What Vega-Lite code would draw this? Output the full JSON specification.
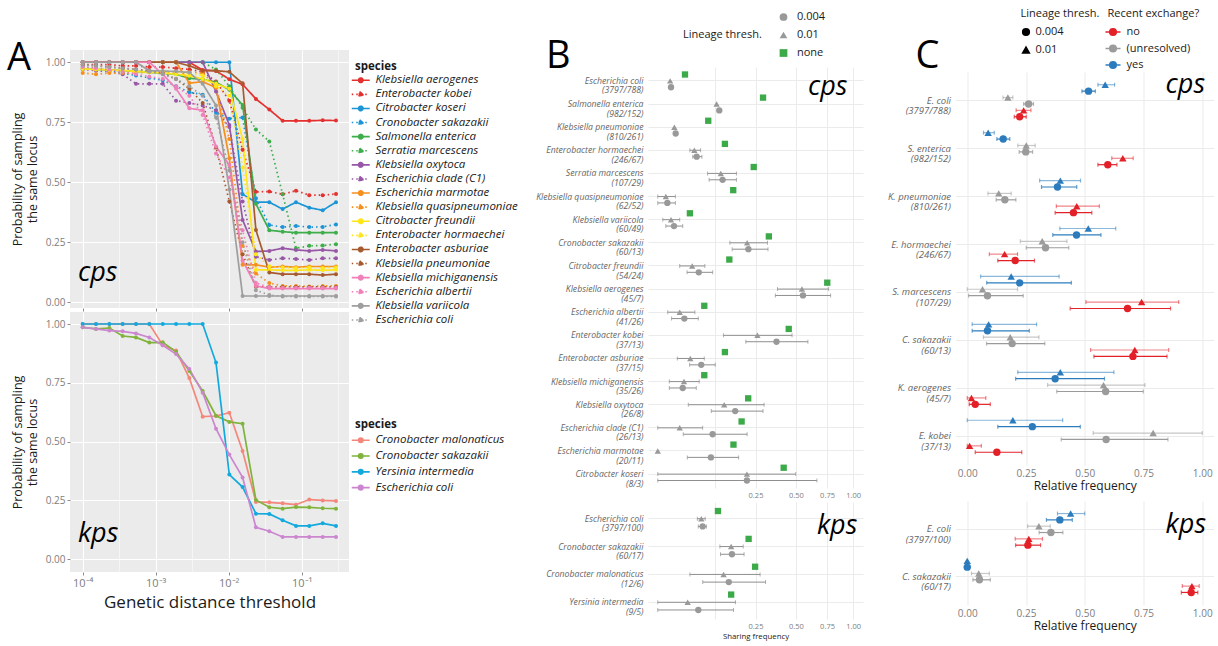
{
"$schema": "https://vega.github.io/schema/vega-lite/v6.json",
"background": "white",
"padding": {"left": 7, "top": 7, "right": 0, "bottom": 0},
"config": {
  "font": "Open Sans",
  "view": {"stroke": null},
  "axis": {"labelColor": "#7d7d7d", "titleColor": "#1a1a1a", "titleFontWeight": "normal", "domain": false, "ticks": false, "labelFont": "Open Sans", "titleFont": "Open Sans"},
  "legend": {"titleFontWeight": "normal", "labelColor": "#1a1a1a", "titleColor": "#1a1a1a", "titleFont": "Open Sans", "labelFont": "Open Sans"},
  "title": {"fontWeight": "normal", "color": "black", "font": "Open Sans"}
},
"datasets": {
"cpsA": [
{"s":"Klebsiella aerogenes","d":0.0001,"p":1},{"s":"Klebsiella aerogenes","d":0.000152,"p":1},{"s":"Klebsiella aerogenes","d":0.000232,"p":1},{"s":"Klebsiella aerogenes","d":0.000353,"p":1},{"s":"Klebsiella aerogenes","d":0.000537,"p":1},{"s":"Klebsiella aerogenes","d":0.000818,"p":1},{"s":"Klebsiella aerogenes","d":0.00125,"p":1},{"s":"Klebsiella aerogenes","d":0.0019,"p":1},{"s":"Klebsiella aerogenes","d":0.00289,"p":1},{"s":"Klebsiella aerogenes","d":0.0044,"p":0.968},{"s":"Klebsiella aerogenes","d":0.0067,"p":0.964},{"s":"Klebsiella aerogenes","d":0.0102,"p":0.929},{"s":"Klebsiella aerogenes","d":0.0155,"p":0.908},{"s":"Klebsiella aerogenes","d":0.0236,"p":0.847},{"s":"Klebsiella aerogenes","d":0.036,"p":0.803},{"s":"Klebsiella aerogenes","d":0.0548,"p":0.756},{"s":"Klebsiella aerogenes","d":0.0835,"p":0.756},{"s":"Klebsiella aerogenes","d":0.127,"p":0.756},{"s":"Klebsiella aerogenes","d":0.194,"p":0.758},{"s":"Klebsiella aerogenes","d":0.295,"p":0.757},
{"s":"Enterobacter kobei","d":0.0001,"p":0.99},{"s":"Enterobacter kobei","d":0.000152,"p":0.99},{"s":"Enterobacter kobei","d":0.000232,"p":0.99},{"s":"Enterobacter kobei","d":0.000353,"p":0.985},{"s":"Enterobacter kobei","d":0.000537,"p":0.985},{"s":"Enterobacter kobei","d":0.000818,"p":0.98},{"s":"Enterobacter kobei","d":0.00125,"p":0.98},{"s":"Enterobacter kobei","d":0.0019,"p":0.975},{"s":"Enterobacter kobei","d":0.00289,"p":0.97},{"s":"Enterobacter kobei","d":0.0044,"p":0.96},{"s":"Enterobacter kobei","d":0.0067,"p":0.92},{"s":"Enterobacter kobei","d":0.0102,"p":0.84},{"s":"Enterobacter kobei","d":0.0155,"p":0.635},{"s":"Enterobacter kobei","d":0.0236,"p":0.46},{"s":"Enterobacter kobei","d":0.036,"p":0.461},{"s":"Enterobacter kobei","d":0.0548,"p":0.45},{"s":"Enterobacter kobei","d":0.0835,"p":0.465},{"s":"Enterobacter kobei","d":0.127,"p":0.446},{"s":"Enterobacter kobei","d":0.194,"p":0.446},{"s":"Enterobacter kobei","d":0.295,"p":0.451},
{"s":"Citrobacter koseri","d":0.0001,"p":1},{"s":"Citrobacter koseri","d":0.000152,"p":1},{"s":"Citrobacter koseri","d":0.000232,"p":1},{"s":"Citrobacter koseri","d":0.000353,"p":1},{"s":"Citrobacter koseri","d":0.000537,"p":1},{"s":"Citrobacter koseri","d":0.000818,"p":1},{"s":"Citrobacter koseri","d":0.00125,"p":1},{"s":"Citrobacter koseri","d":0.0019,"p":1},{"s":"Citrobacter koseri","d":0.00289,"p":1},{"s":"Citrobacter koseri","d":0.0044,"p":1},{"s":"Citrobacter koseri","d":0.0067,"p":1},{"s":"Citrobacter koseri","d":0.0102,"p":1},{"s":"Citrobacter koseri","d":0.0155,"p":0.45},{"s":"Citrobacter koseri","d":0.0236,"p":0.417},{"s":"Citrobacter koseri","d":0.036,"p":0.417},{"s":"Citrobacter koseri","d":0.0548,"p":0.388},{"s":"Citrobacter koseri","d":0.0835,"p":0.417},{"s":"Citrobacter koseri","d":0.127,"p":0.394},{"s":"Citrobacter koseri","d":0.194,"p":0.383},{"s":"Citrobacter koseri","d":0.295,"p":0.417},
{"s":"Cronobacter sakazakii","d":0.0001,"p":0.98},{"s":"Cronobacter sakazakii","d":0.000152,"p":0.975},{"s":"Cronobacter sakazakii","d":0.000232,"p":0.965},{"s":"Cronobacter sakazakii","d":0.000353,"p":0.955},{"s":"Cronobacter sakazakii","d":0.000537,"p":0.945},{"s":"Cronobacter sakazakii","d":0.000818,"p":0.935},{"s":"Cronobacter sakazakii","d":0.00125,"p":0.925},{"s":"Cronobacter sakazakii","d":0.0019,"p":0.9},{"s":"Cronobacter sakazakii","d":0.00289,"p":0.875},{"s":"Cronobacter sakazakii","d":0.0044,"p":0.865},{"s":"Cronobacter sakazakii","d":0.0067,"p":0.79},{"s":"Cronobacter sakazakii","d":0.0102,"p":0.765},{"s":"Cronobacter sakazakii","d":0.0155,"p":0.77},{"s":"Cronobacter sakazakii","d":0.0236,"p":0.433},{"s":"Cronobacter sakazakii","d":0.036,"p":0.322},{"s":"Cronobacter sakazakii","d":0.0548,"p":0.313},{"s":"Cronobacter sakazakii","d":0.0835,"p":0.318},{"s":"Cronobacter sakazakii","d":0.127,"p":0.313},{"s":"Cronobacter sakazakii","d":0.194,"p":0.314},{"s":"Cronobacter sakazakii","d":0.295,"p":0.324},
{"s":"Salmonella enterica","d":0.0001,"p":0.972},{"s":"Salmonella enterica","d":0.000152,"p":0.97},{"s":"Salmonella enterica","d":0.000232,"p":0.968},{"s":"Salmonella enterica","d":0.000353,"p":0.965},{"s":"Salmonella enterica","d":0.000537,"p":0.962},{"s":"Salmonella enterica","d":0.000818,"p":0.958},{"s":"Salmonella enterica","d":0.00125,"p":0.954},{"s":"Salmonella enterica","d":0.0019,"p":0.95},{"s":"Salmonella enterica","d":0.00289,"p":0.933},{"s":"Salmonella enterica","d":0.0044,"p":0.929},{"s":"Salmonella enterica","d":0.0067,"p":0.917},{"s":"Salmonella enterica","d":0.0102,"p":0.885},{"s":"Salmonella enterica","d":0.0155,"p":0.822},{"s":"Salmonella enterica","d":0.0236,"p":0.41},{"s":"Salmonella enterica","d":0.036,"p":0.3},{"s":"Salmonella enterica","d":0.0548,"p":0.294},{"s":"Salmonella enterica","d":0.0835,"p":0.29},{"s":"Salmonella enterica","d":0.127,"p":0.29},{"s":"Salmonella enterica","d":0.194,"p":0.29},{"s":"Salmonella enterica","d":0.295,"p":0.29},
{"s":"Serratia marcescens","d":0.0001,"p":1},{"s":"Serratia marcescens","d":0.000152,"p":1},{"s":"Serratia marcescens","d":0.000232,"p":1},{"s":"Serratia marcescens","d":0.000353,"p":1},{"s":"Serratia marcescens","d":0.000537,"p":1},{"s":"Serratia marcescens","d":0.000818,"p":1},{"s":"Serratia marcescens","d":0.00125,"p":1},{"s":"Serratia marcescens","d":0.0019,"p":1},{"s":"Serratia marcescens","d":0.00289,"p":1},{"s":"Serratia marcescens","d":0.0044,"p":1},{"s":"Serratia marcescens","d":0.0067,"p":0.97},{"s":"Serratia marcescens","d":0.0102,"p":0.9},{"s":"Serratia marcescens","d":0.0155,"p":0.81},{"s":"Serratia marcescens","d":0.0236,"p":0.72},{"s":"Serratia marcescens","d":0.036,"p":0.67},{"s":"Serratia marcescens","d":0.0548,"p":0.45},{"s":"Serratia marcescens","d":0.0835,"p":0.225},{"s":"Serratia marcescens","d":0.127,"p":0.235},{"s":"Serratia marcescens","d":0.194,"p":0.236},{"s":"Serratia marcescens","d":0.295,"p":0.242},
{"s":"Klebsiella oxytoca","d":0.0001,"p":1},{"s":"Klebsiella oxytoca","d":0.000152,"p":1},{"s":"Klebsiella oxytoca","d":0.000232,"p":1},{"s":"Klebsiella oxytoca","d":0.000353,"p":1},{"s":"Klebsiella oxytoca","d":0.000537,"p":1},{"s":"Klebsiella oxytoca","d":0.000818,"p":1},{"s":"Klebsiella oxytoca","d":0.00125,"p":1},{"s":"Klebsiella oxytoca","d":0.0019,"p":1},{"s":"Klebsiella oxytoca","d":0.00289,"p":1},{"s":"Klebsiella oxytoca","d":0.0044,"p":1},{"s":"Klebsiella oxytoca","d":0.0067,"p":0.878},{"s":"Klebsiella oxytoca","d":0.0102,"p":0.739},{"s":"Klebsiella oxytoca","d":0.0155,"p":0.343},{"s":"Klebsiella oxytoca","d":0.0236,"p":0.211},{"s":"Klebsiella oxytoca","d":0.036,"p":0.214},{"s":"Klebsiella oxytoca","d":0.0548,"p":0.225},{"s":"Klebsiella oxytoca","d":0.0835,"p":0.218},{"s":"Klebsiella oxytoca","d":0.127,"p":0.214},{"s":"Klebsiella oxytoca","d":0.194,"p":0.218},{"s":"Klebsiella oxytoca","d":0.295,"p":0.214},
{"s":"Escherichia clade (C1)","d":0.0001,"p":0.97},{"s":"Escherichia clade (C1)","d":0.000152,"p":0.965},{"s":"Escherichia clade (C1)","d":0.000232,"p":0.96},{"s":"Escherichia clade (C1)","d":0.000353,"p":0.95},{"s":"Escherichia clade (C1)","d":0.000537,"p":0.91},{"s":"Escherichia clade (C1)","d":0.000818,"p":0.91},{"s":"Escherichia clade (C1)","d":0.00125,"p":0.91},{"s":"Escherichia clade (C1)","d":0.0019,"p":0.84},{"s":"Escherichia clade (C1)","d":0.00289,"p":0.83},{"s":"Escherichia clade (C1)","d":0.0044,"p":0.82},{"s":"Escherichia clade (C1)","d":0.0067,"p":0.8},{"s":"Escherichia clade (C1)","d":0.0102,"p":0.73},{"s":"Escherichia clade (C1)","d":0.0155,"p":0.42},{"s":"Escherichia clade (C1)","d":0.0236,"p":0.19},{"s":"Escherichia clade (C1)","d":0.036,"p":0.176},{"s":"Escherichia clade (C1)","d":0.0548,"p":0.183},{"s":"Escherichia clade (C1)","d":0.0835,"p":0.18},{"s":"Escherichia clade (C1)","d":0.127,"p":0.176},{"s":"Escherichia clade (C1)","d":0.194,"p":0.183},{"s":"Escherichia clade (C1)","d":0.295,"p":0.183},
{"s":"Escherichia marmotae","d":0.0001,"p":1},{"s":"Escherichia marmotae","d":0.000152,"p":1},{"s":"Escherichia marmotae","d":0.000232,"p":1},{"s":"Escherichia marmotae","d":0.000353,"p":1},{"s":"Escherichia marmotae","d":0.000537,"p":1},{"s":"Escherichia marmotae","d":0.000818,"p":1},{"s":"Escherichia marmotae","d":0.00125,"p":1},{"s":"Escherichia marmotae","d":0.0019,"p":1},{"s":"Escherichia marmotae","d":0.00289,"p":0.913},{"s":"Escherichia marmotae","d":0.0044,"p":0.919},{"s":"Escherichia marmotae","d":0.0067,"p":0.894},{"s":"Escherichia marmotae","d":0.0102,"p":0.6},{"s":"Escherichia marmotae","d":0.0155,"p":0.156},{"s":"Escherichia marmotae","d":0.0236,"p":0.156},{"s":"Escherichia marmotae","d":0.036,"p":0.146},{"s":"Escherichia marmotae","d":0.0548,"p":0.149},{"s":"Escherichia marmotae","d":0.0835,"p":0.146},{"s":"Escherichia marmotae","d":0.127,"p":0.149},{"s":"Escherichia marmotae","d":0.194,"p":0.149},{"s":"Escherichia marmotae","d":0.295,"p":0.149},
{"s":"Klebsiella quasipneumoniae","d":0.0001,"p":0.955},{"s":"Klebsiella quasipneumoniae","d":0.000152,"p":0.95},{"s":"Klebsiella quasipneumoniae","d":0.000232,"p":0.955},{"s":"Klebsiella quasipneumoniae","d":0.000353,"p":0.955},{"s":"Klebsiella quasipneumoniae","d":0.000537,"p":0.955},{"s":"Klebsiella quasipneumoniae","d":0.000818,"p":0.958},{"s":"Klebsiella quasipneumoniae","d":0.00125,"p":0.96},{"s":"Klebsiella quasipneumoniae","d":0.0019,"p":0.96},{"s":"Klebsiella quasipneumoniae","d":0.00289,"p":0.958},{"s":"Klebsiella quasipneumoniae","d":0.0044,"p":0.955},{"s":"Klebsiella quasipneumoniae","d":0.0067,"p":0.9},{"s":"Klebsiella quasipneumoniae","d":0.0102,"p":0.68},{"s":"Klebsiella quasipneumoniae","d":0.0155,"p":0.235},{"s":"Klebsiella quasipneumoniae","d":0.0236,"p":0.12},{"s":"Klebsiella quasipneumoniae","d":0.036,"p":0.08},{"s":"Klebsiella quasipneumoniae","d":0.0548,"p":0.068},{"s":"Klebsiella quasipneumoniae","d":0.0835,"p":0.068},{"s":"Klebsiella quasipneumoniae","d":0.127,"p":0.066},{"s":"Klebsiella quasipneumoniae","d":0.194,"p":0.068},{"s":"Klebsiella quasipneumoniae","d":0.295,"p":0.068},
{"s":"Citrobacter freundii","d":0.0001,"p":0.972},{"s":"Citrobacter freundii","d":0.000152,"p":0.97},{"s":"Citrobacter freundii","d":0.000232,"p":0.968},{"s":"Citrobacter freundii","d":0.000353,"p":0.965},{"s":"Citrobacter freundii","d":0.000537,"p":0.962},{"s":"Citrobacter freundii","d":0.000818,"p":0.958},{"s":"Citrobacter freundii","d":0.00125,"p":0.955},{"s":"Citrobacter freundii","d":0.0019,"p":0.95},{"s":"Citrobacter freundii","d":0.00289,"p":0.944},{"s":"Citrobacter freundii","d":0.0044,"p":0.93},{"s":"Citrobacter freundii","d":0.0067,"p":0.91},{"s":"Citrobacter freundii","d":0.0102,"p":0.89},{"s":"Citrobacter freundii","d":0.0155,"p":0.68},{"s":"Citrobacter freundii","d":0.0236,"p":0.135},{"s":"Citrobacter freundii","d":0.036,"p":0.135},{"s":"Citrobacter freundii","d":0.0548,"p":0.133},{"s":"Citrobacter freundii","d":0.0835,"p":0.133},{"s":"Citrobacter freundii","d":0.127,"p":0.135},{"s":"Citrobacter freundii","d":0.194,"p":0.133},{"s":"Citrobacter freundii","d":0.295,"p":0.135},
{"s":"Enterobacter hormaechei","d":0.0001,"p":0.975},{"s":"Enterobacter hormaechei","d":0.000152,"p":0.972},{"s":"Enterobacter hormaechei","d":0.000232,"p":0.97},{"s":"Enterobacter hormaechei","d":0.000353,"p":0.968},{"s":"Enterobacter hormaechei","d":0.000537,"p":0.966},{"s":"Enterobacter hormaechei","d":0.000818,"p":0.964},{"s":"Enterobacter hormaechei","d":0.00125,"p":0.962},{"s":"Enterobacter hormaechei","d":0.0019,"p":0.96},{"s":"Enterobacter hormaechei","d":0.00289,"p":0.955},{"s":"Enterobacter hormaechei","d":0.0044,"p":0.945},{"s":"Enterobacter hormaechei","d":0.0067,"p":0.9},{"s":"Enterobacter hormaechei","d":0.0102,"p":0.86},{"s":"Enterobacter hormaechei","d":0.0155,"p":0.56},{"s":"Enterobacter hormaechei","d":0.0236,"p":0.2},{"s":"Enterobacter hormaechei","d":0.036,"p":0.15},{"s":"Enterobacter hormaechei","d":0.0548,"p":0.145},{"s":"Enterobacter hormaechei","d":0.0835,"p":0.143},{"s":"Enterobacter hormaechei","d":0.127,"p":0.145},{"s":"Enterobacter hormaechei","d":0.194,"p":0.143},{"s":"Enterobacter hormaechei","d":0.295,"p":0.145},
{"s":"Enterobacter asburiae","d":0.0001,"p":1},{"s":"Enterobacter asburiae","d":0.000152,"p":1},{"s":"Enterobacter asburiae","d":0.000232,"p":1},{"s":"Enterobacter asburiae","d":0.000353,"p":1},{"s":"Enterobacter asburiae","d":0.000537,"p":1},{"s":"Enterobacter asburiae","d":0.000818,"p":1},{"s":"Enterobacter asburiae","d":0.00125,"p":1},{"s":"Enterobacter asburiae","d":0.0019,"p":1},{"s":"Enterobacter asburiae","d":0.00289,"p":0.985},{"s":"Enterobacter asburiae","d":0.0044,"p":0.965},{"s":"Enterobacter asburiae","d":0.0067,"p":0.965},{"s":"Enterobacter asburiae","d":0.0102,"p":0.96},{"s":"Enterobacter asburiae","d":0.0155,"p":0.912},{"s":"Enterobacter asburiae","d":0.0236,"p":0.301},{"s":"Enterobacter asburiae","d":0.036,"p":0.124},{"s":"Enterobacter asburiae","d":0.0548,"p":0.117},{"s":"Enterobacter asburiae","d":0.0835,"p":0.117},{"s":"Enterobacter asburiae","d":0.127,"p":0.117},{"s":"Enterobacter asburiae","d":0.194,"p":0.113},{"s":"Enterobacter asburiae","d":0.295,"p":0.117},
{"s":"Klebsiella pneumoniae","d":0.0001,"p":0.99},{"s":"Klebsiella pneumoniae","d":0.000152,"p":0.985},{"s":"Klebsiella pneumoniae","d":0.000232,"p":0.98},{"s":"Klebsiella pneumoniae","d":0.000353,"p":0.975},{"s":"Klebsiella pneumoniae","d":0.000537,"p":0.97},{"s":"Klebsiella pneumoniae","d":0.000818,"p":0.965},{"s":"Klebsiella pneumoniae","d":0.00125,"p":0.955},{"s":"Klebsiella pneumoniae","d":0.0019,"p":0.93},{"s":"Klebsiella pneumoniae","d":0.00289,"p":0.89},{"s":"Klebsiella pneumoniae","d":0.0044,"p":0.83},{"s":"Klebsiella pneumoniae","d":0.0067,"p":0.645},{"s":"Klebsiella pneumoniae","d":0.0102,"p":0.42},{"s":"Klebsiella pneumoniae","d":0.0155,"p":0.2},{"s":"Klebsiella pneumoniae","d":0.0236,"p":0.065},{"s":"Klebsiella pneumoniae","d":0.036,"p":0.064},{"s":"Klebsiella pneumoniae","d":0.0548,"p":0.064},{"s":"Klebsiella pneumoniae","d":0.0835,"p":0.064},{"s":"Klebsiella pneumoniae","d":0.127,"p":0.064},{"s":"Klebsiella pneumoniae","d":0.194,"p":0.064},{"s":"Klebsiella pneumoniae","d":0.295,"p":0.064},
{"s":"Klebsiella michiganensis","d":0.0001,"p":1},{"s":"Klebsiella michiganensis","d":0.000152,"p":1},{"s":"Klebsiella michiganensis","d":0.000232,"p":1},{"s":"Klebsiella michiganensis","d":0.000353,"p":1},{"s":"Klebsiella michiganensis","d":0.000537,"p":1},{"s":"Klebsiella michiganensis","d":0.000818,"p":1},{"s":"Klebsiella michiganensis","d":0.00125,"p":0.95},{"s":"Klebsiella michiganensis","d":0.0019,"p":0.89},{"s":"Klebsiella michiganensis","d":0.00289,"p":0.808},{"s":"Klebsiella michiganensis","d":0.0044,"p":0.8},{"s":"Klebsiella michiganensis","d":0.0067,"p":0.649},{"s":"Klebsiella michiganensis","d":0.0102,"p":0.572},{"s":"Klebsiella michiganensis","d":0.0155,"p":0.174},{"s":"Klebsiella michiganensis","d":0.0236,"p":0.068},{"s":"Klebsiella michiganensis","d":0.036,"p":0.057},{"s":"Klebsiella michiganensis","d":0.0548,"p":0.057},{"s":"Klebsiella michiganensis","d":0.0835,"p":0.057},{"s":"Klebsiella michiganensis","d":0.127,"p":0.057},{"s":"Klebsiella michiganensis","d":0.194,"p":0.057},{"s":"Klebsiella michiganensis","d":0.295,"p":0.057},
{"s":"Escherichia albertii","d":0.0001,"p":0.98},{"s":"Escherichia albertii","d":0.000152,"p":0.975},{"s":"Escherichia albertii","d":0.000232,"p":0.97},{"s":"Escherichia albertii","d":0.000353,"p":0.96},{"s":"Escherichia albertii","d":0.000537,"p":0.95},{"s":"Escherichia albertii","d":0.000818,"p":0.94},{"s":"Escherichia albertii","d":0.00125,"p":0.93},{"s":"Escherichia albertii","d":0.0019,"p":0.9},{"s":"Escherichia albertii","d":0.00289,"p":0.86},{"s":"Escherichia albertii","d":0.0044,"p":0.78},{"s":"Escherichia albertii","d":0.0067,"p":0.62},{"s":"Escherichia albertii","d":0.0102,"p":0.52},{"s":"Escherichia albertii","d":0.0155,"p":0.3},{"s":"Escherichia albertii","d":0.0236,"p":0.08},{"s":"Escherichia albertii","d":0.036,"p":0.062},{"s":"Escherichia albertii","d":0.0548,"p":0.06},{"s":"Escherichia albertii","d":0.0835,"p":0.06},{"s":"Escherichia albertii","d":0.127,"p":0.06},{"s":"Escherichia albertii","d":0.194,"p":0.06},{"s":"Escherichia albertii","d":0.295,"p":0.06},
{"s":"Klebsiella variicola","d":0.0001,"p":1},{"s":"Klebsiella variicola","d":0.000152,"p":1},{"s":"Klebsiella variicola","d":0.000232,"p":1},{"s":"Klebsiella variicola","d":0.000353,"p":1},{"s":"Klebsiella variicola","d":0.000537,"p":1},{"s":"Klebsiella variicola","d":0.000818,"p":0.965},{"s":"Klebsiella variicola","d":0.00125,"p":0.963},{"s":"Klebsiella variicola","d":0.0019,"p":0.962},{"s":"Klebsiella variicola","d":0.00289,"p":0.957},{"s":"Klebsiella variicola","d":0.0044,"p":0.91},{"s":"Klebsiella variicola","d":0.0067,"p":0.82},{"s":"Klebsiella variicola","d":0.0102,"p":0.47},{"s":"Klebsiella variicola","d":0.0155,"p":0.026},{"s":"Klebsiella variicola","d":0.0236,"p":0.026},{"s":"Klebsiella variicola","d":0.036,"p":0.026},{"s":"Klebsiella variicola","d":0.0548,"p":0.026},{"s":"Klebsiella variicola","d":0.0835,"p":0.026},{"s":"Klebsiella variicola","d":0.127,"p":0.026},{"s":"Klebsiella variicola","d":0.194,"p":0.026},{"s":"Klebsiella variicola","d":0.295,"p":0.026},
{"s":"Escherichia coli","d":0.0001,"p":0.99},{"s":"Escherichia coli","d":0.000152,"p":0.985},{"s":"Escherichia coli","d":0.000232,"p":0.98},{"s":"Escherichia coli","d":0.000353,"p":0.975},{"s":"Escherichia coli","d":0.000537,"p":0.97},{"s":"Escherichia coli","d":0.000818,"p":0.96},{"s":"Escherichia coli","d":0.00125,"p":0.95},{"s":"Escherichia coli","d":0.0019,"p":0.93},{"s":"Escherichia coli","d":0.00289,"p":0.9},{"s":"Escherichia coli","d":0.0044,"p":0.86},{"s":"Escherichia coli","d":0.0067,"p":0.77},{"s":"Escherichia coli","d":0.0102,"p":0.55},{"s":"Escherichia coli","d":0.0155,"p":0.25},{"s":"Escherichia coli","d":0.0236,"p":0.05},{"s":"Escherichia coli","d":0.036,"p":0.03},{"s":"Escherichia coli","d":0.0548,"p":0.024},{"s":"Escherichia coli","d":0.0835,"p":0.024},{"s":"Escherichia coli","d":0.127,"p":0.024},{"s":"Escherichia coli","d":0.194,"p":0.024},{"s":"Escherichia coli","d":0.295,"p":0.024}
],
"kpsA": [
{"s":"Cronobacter malonaticus","d":0.0001,"p":1},{"s":"Cronobacter malonaticus","d":0.000152,"p":1},{"s":"Cronobacter malonaticus","d":0.000232,"p":1},{"s":"Cronobacter malonaticus","d":0.000353,"p":1},{"s":"Cronobacter malonaticus","d":0.000537,"p":1},{"s":"Cronobacter malonaticus","d":0.000818,"p":1},{"s":"Cronobacter malonaticus","d":0.00125,"p":0.91},{"s":"Cronobacter malonaticus","d":0.0019,"p":0.887},{"s":"Cronobacter malonaticus","d":0.00289,"p":0.77},{"s":"Cronobacter malonaticus","d":0.0044,"p":0.606},{"s":"Cronobacter malonaticus","d":0.0067,"p":0.609},{"s":"Cronobacter malonaticus","d":0.0102,"p":0.623},{"s":"Cronobacter malonaticus","d":0.0155,"p":0.46},{"s":"Cronobacter malonaticus","d":0.0236,"p":0.244},{"s":"Cronobacter malonaticus","d":0.036,"p":0.242},{"s":"Cronobacter malonaticus","d":0.0548,"p":0.238},{"s":"Cronobacter malonaticus","d":0.0835,"p":0.232},{"s":"Cronobacter malonaticus","d":0.127,"p":0.254},{"s":"Cronobacter malonaticus","d":0.194,"p":0.25},{"s":"Cronobacter malonaticus","d":0.295,"p":0.248},
{"s":"Cronobacter sakazakii","d":0.0001,"p":0.986},{"s":"Cronobacter sakazakii","d":0.000152,"p":0.979},{"s":"Cronobacter sakazakii","d":0.000232,"p":0.983},{"s":"Cronobacter sakazakii","d":0.000353,"p":0.949},{"s":"Cronobacter sakazakii","d":0.000537,"p":0.943},{"s":"Cronobacter sakazakii","d":0.000818,"p":0.921},{"s":"Cronobacter sakazakii","d":0.00125,"p":0.922},{"s":"Cronobacter sakazakii","d":0.0019,"p":0.882},{"s":"Cronobacter sakazakii","d":0.00289,"p":0.8},{"s":"Cronobacter sakazakii","d":0.0044,"p":0.715},{"s":"Cronobacter sakazakii","d":0.0067,"p":0.61},{"s":"Cronobacter sakazakii","d":0.0102,"p":0.584},{"s":"Cronobacter sakazakii","d":0.0155,"p":0.576},{"s":"Cronobacter sakazakii","d":0.0236,"p":0.252},{"s":"Cronobacter sakazakii","d":0.036,"p":0.221},{"s":"Cronobacter sakazakii","d":0.0548,"p":0.215},{"s":"Cronobacter sakazakii","d":0.0835,"p":0.222},{"s":"Cronobacter sakazakii","d":0.127,"p":0.221},{"s":"Cronobacter sakazakii","d":0.194,"p":0.217},{"s":"Cronobacter sakazakii","d":0.295,"p":0.215},
{"s":"Yersinia intermedia","d":0.0001,"p":1},{"s":"Yersinia intermedia","d":0.000152,"p":1},{"s":"Yersinia intermedia","d":0.000232,"p":1},{"s":"Yersinia intermedia","d":0.000353,"p":1},{"s":"Yersinia intermedia","d":0.000537,"p":1},{"s":"Yersinia intermedia","d":0.000818,"p":1},{"s":"Yersinia intermedia","d":0.00125,"p":1},{"s":"Yersinia intermedia","d":0.0019,"p":1},{"s":"Yersinia intermedia","d":0.00289,"p":1},{"s":"Yersinia intermedia","d":0.0044,"p":1},{"s":"Yersinia intermedia","d":0.0067,"p":0.836},{"s":"Yersinia intermedia","d":0.0102,"p":0.36},{"s":"Yersinia intermedia","d":0.0155,"p":0.307},{"s":"Yersinia intermedia","d":0.0236,"p":0.194},{"s":"Yersinia intermedia","d":0.036,"p":0.193},{"s":"Yersinia intermedia","d":0.0548,"p":0.166},{"s":"Yersinia intermedia","d":0.0835,"p":0.142},{"s":"Yersinia intermedia","d":0.127,"p":0.142},{"s":"Yersinia intermedia","d":0.194,"p":0.153},{"s":"Yersinia intermedia","d":0.295,"p":0.142},
{"s":"Escherichia coli","d":0.0001,"p":0.986},{"s":"Escherichia coli","d":0.000152,"p":0.979},{"s":"Escherichia coli","d":0.000232,"p":0.972},{"s":"Escherichia coli","d":0.000353,"p":0.969},{"s":"Escherichia coli","d":0.000537,"p":0.96},{"s":"Escherichia coli","d":0.000818,"p":0.943},{"s":"Escherichia coli","d":0.00125,"p":0.91},{"s":"Escherichia coli","d":0.0019,"p":0.872},{"s":"Escherichia coli","d":0.00289,"p":0.809},{"s":"Escherichia coli","d":0.0044,"p":0.708},{"s":"Escherichia coli","d":0.0067,"p":0.555},{"s":"Escherichia coli","d":0.0102,"p":0.445},{"s":"Escherichia coli","d":0.0155,"p":0.348},{"s":"Escherichia coli","d":0.0236,"p":0.136},{"s":"Escherichia coli","d":0.036,"p":0.119},{"s":"Escherichia coli","d":0.0548,"p":0.095},{"s":"Escherichia coli","d":0.0835,"p":0.095},{"s":"Escherichia coli","d":0.127,"p":0.095},{"s":"Escherichia coli","d":0.194,"p":0.095},{"s":"Escherichia coli","d":0.295,"p":0.095}
],
"cpsB": [
{"s":"Escherichia coli|(3797/788)","t":"none","v":0.0194},{"s":"Escherichia coli|(3797/788)","t":"0.01","v":0.004},{"s":"Escherichia coli|(3797/788)","t":"0.004","v":0.0046},
{"s":"Salmonella enterica|(982/152)","t":"none","v":0.29},{"s":"Salmonella enterica|(982/152)","t":"0.01","v":0.0906},{"s":"Salmonella enterica|(982/152)","t":"0.004","v":0.099},
{"s":"Klebsiella pneumoniae|(810/261)","t":"none","v":0.0667},{"s":"Klebsiella pneumoniae|(810/261)","t":"0.01","v":0.0072},{"s":"Klebsiella pneumoniae|(810/261)","t":"0.004","v":0.0084},
{"s":"Enterobacter hormaechei|(246/67)","t":"none","v":0.118},{"s":"Enterobacter hormaechei|(246/67)","t":"0.01","v":0.035,"lo":0.027,"hi":0.048},{"s":"Enterobacter hormaechei|(246/67)","t":"0.004","v":0.0396,"lo":0.032,"hi":0.051},
{"s":"Serratia marcescens|(107/29)","t":"none","v":0.241},{"s":"Serratia marcescens|(107/29)","t":"0.01","v":0.104,"lo":0.065,"hi":0.162},{"s":"Serratia marcescens|(107/29)","t":"0.004","v":0.11,"lo":0.069,"hi":0.162},
{"s":"Klebsiella quasipneumoniae|(62/52)","t":"none","v":0.149},{"s":"Klebsiella quasipneumoniae|(62/52)","t":"0.01","v":0.0017,"lo":0,"hi":0.0081},{"s":"Klebsiella quasipneumoniae|(62/52)","t":"0.004","v":0.0024,"lo":0,"hi":0.0081},
{"s":"Klebsiella variicola|(60/49)","t":"none","v":0.027},{"s":"Klebsiella variicola|(60/49)","t":"0.01","v":0.0046,"lo":0.00065,"hi":0.0126},{"s":"Klebsiella variicola|(60/49)","t":"0.004","v":0.0069,"lo":0.0017,"hi":0.0163},
{"s":"Cronobacter sakazakii|(60/13)","t":"none","v":0.323},{"s":"Cronobacter sakazakii|(60/13)","t":"0.01","v":0.209,"lo":0.136,"hi":0.315},{"s":"Cronobacter sakazakii|(60/13)","t":"0.004","v":0.215,"lo":0.145,"hi":0.318},
{"s":"Citrobacter freundii|(54/24)","t":"none","v":0.134},{"s":"Citrobacter freundii|(54/24)","t":"0.01","v":0.031,"lo":0.0126,"hi":0.058},{"s":"Citrobacter freundii|(54/24)","t":"0.004","v":0.044,"lo":0.0224,"hi":0.079},
{"s":"Klebsiella aerogenes|(45/7)","t":"none","v":0.752},{"s":"Klebsiella aerogenes|(45/7)","t":"0.01","v":0.544,"lo":0.375,"hi":0.764},{"s":"Klebsiella aerogenes|(45/7)","t":"0.004","v":0.552,"lo":0.362,"hi":0.782},
{"s":"Escherichia albertii|(41/26)","t":"none","v":0.0566},{"s":"Escherichia albertii|(41/26)","t":"0.01","v":0.0126,"lo":0.0026,"hi":0.036},{"s":"Escherichia albertii|(41/26)","t":"0.004","v":0.0185,"lo":0.005,"hi":0.043},
{"s":"Enterobacter kobei|(37/13)","t":"none","v":0.449},{"s":"Enterobacter kobei|(37/13)","t":"0.01","v":0.26,"lo":0.113,"hi":0.472},{"s":"Enterobacter kobei|(37/13)","t":"0.004","v":0.369,"lo":0.203,"hi":0.59},
{"s":"Enterobacter asburiae|(37/15)","t":"none","v":0.118},{"s":"Enterobacter asburiae|(37/15)","t":"0.01","v":0.0277,"lo":0.01,"hi":0.0566},{"s":"Enterobacter asburiae|(37/15)","t":"0.004","v":0.0495,"lo":0.0266,"hi":0.0864},
{"s":"Klebsiella michiganensis|(35/26)","t":"none","v":0.0566},{"s":"Klebsiella michiganensis|(35/26)","t":"0.01","v":0.018,"lo":0.0035,"hi":0.045},{"s":"Klebsiella michiganensis|(35/26)","t":"0.004","v":0.0163,"lo":0.0035,"hi":0.0388},
{"s":"Klebsiella oxytoca|(26/8)","t":"none","v":0.214},{"s":"Klebsiella oxytoca|(26/8)","t":"0.01","v":0.1155,"lo":0.0244,"hi":0.296},{"s":"Klebsiella oxytoca|(26/8)","t":"0.004","v":0.157,"lo":0.075,"hi":0.29},
{"s":"Escherichia clade (C1)|(26/13)","t":"none","v":0.184},{"s":"Escherichia clade (C1)|(26/13)","t":"0.01","v":0.0126,"lo":0,"hi":0.0527},{"s":"Escherichia clade (C1)|(26/13)","t":"0.004","v":0.0787,"lo":0.017,"hi":0.209},
{"s":"Escherichia marmotae|(20/11)","t":"none","v":0.15},{"s":"Escherichia marmotae|(20/11)","t":"0.01","v":0},{"s":"Escherichia marmotae|(20/11)","t":"0.004","v":0.074,"lo":0.0228,"hi":0.171},
{"s":"Citrobacter koseri|(8/3)","t":"none","v":0.415},{"s":"Citrobacter koseri|(8/3)","t":"0.01","v":0.208,"lo":0,"hi":0.498},{"s":"Citrobacter koseri|(8/3)","t":"0.004","v":0.208,"lo":0,"hi":0.663}
],
"kpsB": [
{"s":"Escherichia coli|(3797/100)","t":"none","v":0.0948},{"s":"Escherichia coli|(3797/100)","t":"0.01","v":0.0496,"lo":0.041,"hi":0.059},{"s":"Escherichia coli|(3797/100)","t":"0.004","v":0.0527,"lo":0.043,"hi":0.062},
{"s":"Cronobacter sakazakii|(60/17)","t":"none","v":0.216},{"s":"Cronobacter sakazakii|(60/17)","t":"0.01","v":0.141,"lo":0.101,"hi":0.191},{"s":"Cronobacter sakazakii|(60/17)","t":"0.004","v":0.144,"lo":0.103,"hi":0.195},
{"s":"Cronobacter malonaticus|(12/6)","t":"none","v":0.248},{"s":"Cronobacter malonaticus|(12/6)","t":"0.01","v":0.1134,"lo":0.027,"hi":0.274},{"s":"Cronobacter malonaticus|(12/6)","t":"0.004","v":0.132,"lo":0.053,"hi":0.304},
{"s":"Yersinia intermedia|(9/5)","t":"none","v":0.141},{"s":"Yersinia intermedia|(9/5)","t":"0.01","v":0.0234,"lo":0,"hi":0.158},{"s":"Yersinia intermedia|(9/5)","t":"0.004","v":0.043,"lo":0,"hi":0.15}
],
"cpsC": [
{"s":"E. coli|(3797/788)","e":"yes","t":"0.01","g":"yes 0.01","v":0.587,"lo":0.556,"hi":0.627},
{"s":"E. coli|(3797/788)","e":"yes","t":"0.004","g":"yes 0.004","v":0.516,"lo":0.488,"hi":0.545},
{"s":"E. coli|(3797/788)","e":"(unresolved)","t":"0.01","g":"(unresolved) 0.01","v":0.173,"lo":0.152,"hi":0.194},
{"s":"E. coli|(3797/788)","e":"(unresolved)","t":"0.004","g":"(unresolved) 0.004","v":0.261,"lo":0.24,"hi":0.282},
{"s":"E. coli|(3797/788)","e":"no","t":"0.01","g":"no 0.01","v":0.24,"lo":0.208,"hi":0.271},
{"s":"E. coli|(3797/788)","e":"no","t":"0.004","g":"no 0.004","v":0.223,"lo":0.2,"hi":0.251},
{"s":"S. enterica|(982/152)","e":"yes","t":"0.01","g":"yes 0.01","v":0.089,"lo":0.069,"hi":0.115},
{"s":"S. enterica|(982/152)","e":"yes","t":"0.004","g":"yes 0.004","v":0.153,"lo":0.126,"hi":0.181},
{"s":"S. enterica|(982/152)","e":"(unresolved)","t":"0.01","g":"(unresolved) 0.01","v":0.251,"lo":0.215,"hi":0.289},
{"s":"S. enterica|(982/152)","e":"(unresolved)","t":"0.004","g":"(unresolved) 0.004","v":0.249,"lo":0.221,"hi":0.278},
{"s":"S. enterica|(982/152)","e":"no","t":"0.01","g":"no 0.01","v":0.662,"lo":0.615,"hi":0.706},
{"s":"S. enterica|(982/152)","e":"no","t":"0.004","g":"no 0.004","v":0.598,"lo":0.556,"hi":0.637},
{"s":"K. pneumoniae|(810/261)","e":"yes","t":"0.01","g":"yes 0.01","v":0.396,"lo":0.308,"hi":0.482},
{"s":"K. pneumoniae|(810/261)","e":"yes","t":"0.004","g":"yes 0.004","v":0.384,"lo":0.316,"hi":0.466},
{"s":"K. pneumoniae|(810/261)","e":"(unresolved)","t":"0.01","g":"(unresolved) 0.01","v":0.134,"lo":0.088,"hi":0.187},
{"s":"K. pneumoniae|(810/261)","e":"(unresolved)","t":"0.004","g":"(unresolved) 0.004","v":0.16,"lo":0.123,"hi":0.207},
{"s":"K. pneumoniae|(810/261)","e":"no","t":"0.01","g":"no 0.01","v":0.466,"lo":0.379,"hi":0.562},
{"s":"K. pneumoniae|(810/261)","e":"no","t":"0.004","g":"no 0.004","v":0.452,"lo":0.374,"hi":0.53},
{"s":"E. hormaechei|(246/67)","e":"yes","t":"0.01","g":"yes 0.01","v":0.515,"lo":0.394,"hi":0.632},
{"s":"E. hormaechei|(246/67)","e":"yes","t":"0.004","g":"yes 0.004","v":0.465,"lo":0.364,"hi":0.569},
{"s":"E. hormaechei|(246/67)","e":"(unresolved)","t":"0.01","g":"(unresolved) 0.01","v":0.319,"lo":0.226,"hi":0.424},
{"s":"E. hormaechei|(246/67)","e":"(unresolved)","t":"0.004","g":"(unresolved) 0.004","v":0.333,"lo":0.251,"hi":0.432},
{"s":"E. hormaechei|(246/67)","e":"no","t":"0.01","g":"no 0.01","v":0.159,"lo":0.094,"hi":0.214},
{"s":"E. hormaechei|(246/67)","e":"no","t":"0.004","g":"no 0.004","v":0.204,"lo":0.13,"hi":0.286},
{"s":"S. marcescens|(107/29)","e":"yes","t":"0.01","g":"yes 0.01","v":0.187,"lo":0.057,"hi":0.391},
{"s":"S. marcescens|(107/29)","e":"yes","t":"0.004","g":"yes 0.004","v":0.223,"lo":0.083,"hi":0.443},
{"s":"S. marcescens|(107/29)","e":"(unresolved)","t":"0.01","g":"(unresolved) 0.01","v":0.065,"lo":0,"hi":0.214},
{"s":"S. marcescens|(107/29)","e":"(unresolved)","t":"0.004","g":"(unresolved) 0.004","v":0.086,"lo":0.0055,"hi":0.238},
{"s":"S. marcescens|(107/29)","e":"no","t":"0.01","g":"no 0.01","v":0.742,"lo":0.505,"hi":0.9},
{"s":"S. marcescens|(107/29)","e":"no","t":"0.004","g":"no 0.004","v":0.682,"lo":0.438,"hi":0.865},
{"s":"C. sakazakii|(60/13)","e":"yes","t":"0.01","g":"yes 0.01","v":0.091,"lo":0.021,"hi":0.295},
{"s":"C. sakazakii|(60/13)","e":"yes","t":"0.004","g":"yes 0.004","v":0.086,"lo":0.021,"hi":0.264},
{"s":"C. sakazakii|(60/13)","e":"(unresolved)","t":"0.01","g":"(unresolved) 0.01","v":0.183,"lo":0.069,"hi":0.305},
{"s":"C. sakazakii|(60/13)","e":"(unresolved)","t":"0.004","g":"(unresolved) 0.004","v":0.191,"lo":0.082,"hi":0.33},
{"s":"C. sakazakii|(60/13)","e":"no","t":"0.01","g":"no 0.01","v":0.713,"lo":0.525,"hi":0.857},
{"s":"C. sakazakii|(60/13)","e":"no","t":"0.004","g":"no 0.004","v":0.705,"lo":0.539,"hi":0.85},
{"s":"K. aerogenes|(45/7)","e":"yes","t":"0.01","g":"yes 0.01","v":0.396,"lo":0.215,"hi":0.624},
{"s":"K. aerogenes|(45/7)","e":"yes","t":"0.004","g":"yes 0.004","v":0.374,"lo":0.206,"hi":0.584},
{"s":"K. aerogenes|(45/7)","e":"(unresolved)","t":"0.01","g":"(unresolved) 0.01","v":0.58,"lo":0.342,"hi":0.756},
{"s":"K. aerogenes|(45/7)","e":"(unresolved)","t":"0.004","g":"(unresolved) 0.004","v":0.589,"lo":0.381,"hi":0.749},
{"s":"K. aerogenes|(45/7)","e":"no","t":"0.01","g":"no 0.01","v":0.018,"lo":0,"hi":0.079},
{"s":"K. aerogenes|(45/7)","e":"no","t":"0.004","g":"no 0.004","v":0.034,"lo":0.0085,"hi":0.098},
{"s":"E. kobei|(37/13)","e":"yes","t":"0.01","g":"yes 0.01","v":0.194,"lo":0,"hi":0.406},
{"s":"E. kobei|(37/13)","e":"yes","t":"0.004","g":"yes 0.004","v":0.277,"lo":0.13,"hi":0.481},
{"s":"E. kobei|(37/13)","e":"(unresolved)","t":"0.01","g":"(unresolved) 0.01","v":0.791,"lo":0.536,"hi":1.0},
{"s":"E. kobei|(37/13)","e":"(unresolved)","t":"0.004","g":"(unresolved) 0.004","v":0.591,"lo":0.4,"hi":0.854},
{"s":"E. kobei|(37/13)","e":"no","t":"0.01","g":"no 0.01","v":0.01,"lo":0,"hi":0.06},
{"s":"E. kobei|(37/13)","e":"no","t":"0.004","g":"no 0.004","v":0.126,"lo":0.034,"hi":0.232}
],
"kpsC": [
{"s":"E. coli|(3797/100)","e":"yes","t":"0.01","g":"yes 0.01","v":0.44,"lo":0.384,"hi":0.5},
{"s":"E. coli|(3797/100)","e":"yes","t":"0.004","g":"yes 0.004","v":0.394,"lo":0.337,"hi":0.447},
{"s":"E. coli|(3797/100)","e":"(unresolved)","t":"0.01","g":"(unresolved) 0.01","v":0.305,"lo":0.257,"hi":0.353},
{"s":"E. coli|(3797/100)","e":"(unresolved)","t":"0.004","g":"(unresolved) 0.004","v":0.356,"lo":0.306,"hi":0.407},
{"s":"E. coli|(3797/100)","e":"no","t":"0.01","g":"no 0.01","v":0.262,"lo":0.204,"hi":0.32},
{"s":"E. coli|(3797/100)","e":"no","t":"0.004","g":"no 0.004","v":0.258,"lo":0.206,"hi":0.312},
{"s":"C. sakazakii|(60/17)","e":"yes","t":"0.01","g":"yes 0.01","v":0},
{"s":"C. sakazakii|(60/17)","e":"yes","t":"0.004","g":"yes 0.004","v":0},
{"s":"C. sakazakii|(60/17)","e":"(unresolved)","t":"0.01","g":"(unresolved) 0.01","v":0.049,"lo":0.018,"hi":0.094},
{"s":"C. sakazakii|(60/17)","e":"(unresolved)","t":"0.004","g":"(unresolved) 0.004","v":0.052,"lo":0.024,"hi":0.098},
{"s":"C. sakazakii|(60/17)","e":"no","t":"0.01","g":"no 0.01","v":0.956,"lo":0.915,"hi":0.987},
{"s":"C. sakazakii|(60/17)","e":"no","t":"0.004","g":"no 0.004","v":0.953,"lo":0.911,"hi":0.981}
]
},
"bounds": "full",
"spacing": 17,
"resolve": {"scale": {"color": "independent", "shape": "independent", "strokeDash": "independent", "opacity": "independent", "yOffset": "independent"}},
"hconcat": [
{
 "bounds": "flush", "spacing": 4,
 "resolve": {"scale": {"color": "independent", "shape": "independent", "strokeDash": "independent", "opacity": "independent", "yOffset": "independent"}},
 "vconcat": [
{
  "width": 279, "height": 258,
  "view": {"fill": "#EBEBEB", "stroke": null},
  "title": {"text": "A", "anchor": "start", "frame": "group", "fontSize": 38, "baseline": "alphabetic", "offset": 0, "dx": -63, "dy": 58},
  "data": {"name": "cpsA"},
  "layer": [
   {"mark": {"type": "line", "strokeWidth": 1.7},
    "encoding": {
     "x": {"field": "d", "type": "quantitative", "scale": {"type": "log", "domain": [0.000067, 0.4446], "nice": false},
       "axis": {"values": [0.0001,0.000316,0.001,0.00316,0.01,0.0316,0.1,0.316], "labels": false, "title": null, "grid": true, "gridColor": "white",
        "gridWidth": {"condition": {"test": "datum.value==0.0001||datum.value==0.001||datum.value==0.01||datum.value==0.1", "value": 1.1}, "value": 0.5},
        "ticks": true, "tickSize": 3, "tickColor": "#8c8c8c",
        "tickOpacity": {"condition": {"test": "datum.value==0.0001||datum.value==0.001||datum.value==0.01||datum.value==0.1", "value": 1}, "value": 0}}},
     "y": {"field": "p", "type": "quantitative", "scale": {"domain": [-0.024, 1.051], "nice": false, "zero": false},
       "axis": {"values": [0,0.125,0.25,0.375,0.5,0.625,0.75,0.875,1], "labelExpr": "datum.value*4==round(datum.value*4)?format(datum.value,'.2f'):''",
        "grid": true, "gridColor": "white", "gridWidth": {"condition": {"test": "datum.value*4==round(datum.value*4)", "value": 1.1}, "value": 0.5},
        "ticks": true, "tickSize": 3, "tickColor": "#8c8c8c", "tickOpacity": {"condition": {"test": "datum.value*4==round(datum.value*4)", "value": 1}, "value": 0},
        "title": ["Probability of sampling", "the same locus"], "titleFontSize": 12.5, "labelFontSize": 10, "labelPadding": 2, "titlePadding": 6}},
     "color": {"field": "s", "type": "nominal",
       "scale": {"domain": ["Klebsiella aerogenes","Enterobacter kobei","Citrobacter koseri","Cronobacter sakazakii","Salmonella enterica","Serratia marcescens","Klebsiella oxytoca","Escherichia clade (C1)","Escherichia marmotae","Klebsiella quasipneumoniae","Citrobacter freundii","Enterobacter hormaechei","Enterobacter asburiae","Klebsiella pneumoniae","Klebsiella michiganensis","Escherichia albertii","Klebsiella variicola","Escherichia coli"],
        "range": ["#E4302F","#E4302F","#1B95D6","#1B95D6","#3DAE4A","#3DAE4A","#9857A6","#9857A6","#F5901F","#F5901F","#FFE61A","#FFE61A","#A65A2E","#A65A2E","#F07FBA","#F07FBA","#9E9E9E","#9E9E9E"]},
       "legend": {"orient": "none", "legendX": 285, "legendY": 11, "title": "species", "titleFontWeight": "bold", "titleFontSize": 11.5, "labelFontStyle": "italic", "labelFontSize": 11.5, "symbolType": "M-2,0L2,0M0.5,0A0.5,0.5,0,1,1,-0.5,0A0.5,0.5,0,1,1,0.5,0M0.3,0A0.3,0.3,0,1,1,-0.3,0A0.3,0.3,0,1,1,0.3,0M0.12,0A0.12,0.12,0,1,1,-0.12,0A0.12,0.12,0,1,1,0.12,0", "symbolSize": 81, "symbolStrokeWidth": 1.6, "labelOffset": 9, "rowPadding": 1.1, "titlePadding": 2}},
     "strokeDash": {"field": "s", "type": "nominal",
       "scale": {"domain": ["Klebsiella aerogenes","Enterobacter kobei","Citrobacter koseri","Cronobacter sakazakii","Salmonella enterica","Serratia marcescens","Klebsiella oxytoca","Escherichia clade (C1)","Escherichia marmotae","Klebsiella quasipneumoniae","Citrobacter freundii","Enterobacter hormaechei","Enterobacter asburiae","Klebsiella pneumoniae","Klebsiella michiganensis","Escherichia albertii","Klebsiella variicola","Escherichia coli"],
        "range": [[1,0],[1.5,3],[1,0],[1.5,3],[1,0],[1.5,3],[1,0],[1.5,3],[1,0],[1.5,3],[1,0],[1.5,3],[1,0],[1.5,3],[1,0],[1.5,3],[1,0],[1.5,3]]},
       "legend": {"orient": "none", "legendX": 285, "legendY": 11, "title": "species", "titleFontWeight": "bold", "titleFontSize": 11.5, "labelFontStyle": "italic", "labelFontSize": 11.5, "symbolType": "M-2,0L2,0M0.5,0A0.5,0.5,0,1,1,-0.5,0A0.5,0.5,0,1,1,0.5,0M0.3,0A0.3,0.3,0,1,1,-0.3,0A0.3,0.3,0,1,1,0.3,0M0.12,0A0.12,0.12,0,1,1,-0.12,0A0.12,0.12,0,1,1,0.12,0", "symbolSize": 81, "symbolStrokeWidth": 1.6, "labelOffset": 9, "rowPadding": 1.1, "titlePadding": 2}}
    }},
   {"mark": {"type": "circle", "size": 16, "opacity": 1},
    "encoding": {
     "x": {"field": "d", "type": "quantitative"},
     "y": {"field": "p", "type": "quantitative"},
     "color": {"field": "s", "type": "nominal", "legend": null}
    }},
   {"data": {"values": [{"t": "cps"}]},
    "mark": {"type": "text", "fontSize": 27, "fontStyle": "italic", "align": "left", "baseline": "alphabetic", "color": "black"},
    "encoding": {"x": {"datum": 0.000086, "type": "quantitative"}, "y": {"datum": 0.089, "type": "quantitative"}, "text": {"field": "t"}}}
  ]
},
{
  "width": 279, "height": 260,
  "view": {"fill": "#EBEBEB", "stroke": null},
  "data": {"name": "kpsA"},
  "layer": [
   {"mark": {"type": "line", "strokeWidth": 1.7},
    "encoding": {
     "x": {"field": "d", "type": "quantitative", "scale": {"type": "log", "domain": [0.000067, 0.4446], "nice": false},
       "axis": {"values": [0.0001,0.000316,0.001,0.00316,0.01,0.0316,0.1,0.316],
        "labelExpr": "datum.value==0.0001?'10⁻⁴':datum.value==0.001?'10⁻³':datum.value==0.01?'10⁻²':datum.value==0.1?'10⁻¹':''",
        "labelFontSize": 11, "labelPadding": 2, "labelOverlap": false,
        "title": "Genetic distance threshold", "titleFontSize": 17, "titlePadding": 6, "grid": true, "gridColor": "white",
        "gridWidth": {"condition": {"test": "datum.value==0.0001||datum.value==0.001||datum.value==0.01||datum.value==0.1", "value": 1.1}, "value": 0.5},
        "ticks": true, "tickSize": 3, "tickColor": "#8c8c8c",
        "tickOpacity": {"condition": {"test": "datum.value==0.0001||datum.value==0.001||datum.value==0.01||datum.value==0.1", "value": 1}, "value": 0}}},
     "y": {"field": "p", "type": "quantitative", "scale": {"domain": [-0.054, 1.051], "nice": false, "zero": false},
       "axis": {"values": [0,0.125,0.25,0.375,0.5,0.625,0.75,0.875,1], "labelExpr": "datum.value*4==round(datum.value*4)?format(datum.value,'.2f'):''",
        "grid": true, "gridColor": "white", "gridWidth": {"condition": {"test": "datum.value*4==round(datum.value*4)", "value": 1.1}, "value": 0.5},
        "ticks": true, "tickSize": 3, "tickColor": "#8c8c8c", "tickOpacity": {"condition": {"test": "datum.value*4==round(datum.value*4)", "value": 1}, "value": 0},
        "title": ["Probability of sampling", "the same locus"], "titleFontSize": 12.5, "labelFontSize": 10, "labelPadding": 2, "titlePadding": 6}},
     "color": {"field": "s", "type": "nominal",
       "scale": {"domain": ["Cronobacter malonaticus","Cronobacter sakazakii","Yersinia intermedia","Escherichia coli"], "range": ["#F4877B","#80B33B","#12A9DD","#CB86CF"]},
       "legend": {"orient": "none", "legendX": 285, "legendY": 107, "title": "species", "titleFontWeight": "bold", "titleFontSize": 11.5, "labelFontStyle": "italic", "labelFontSize": 11.5, "symbolType": "M-2,0L2,0M0.5,0A0.5,0.5,0,1,1,-0.5,0A0.5,0.5,0,1,1,0.5,0M0.3,0A0.3,0.3,0,1,1,-0.3,0A0.3,0.3,0,1,1,0.3,0M0.12,0A0.12,0.12,0,1,1,-0.12,0A0.12,0.12,0,1,1,0.12,0", "symbolSize": 81, "symbolStrokeWidth": 1.6, "labelOffset": 9, "rowPadding": 2.8, "titlePadding": 4}}
    }},
   {"mark": {"type": "circle", "size": 16, "opacity": 1},
    "encoding": {
     "x": {"field": "d", "type": "quantitative"},
     "y": {"field": "p", "type": "quantitative"},
     "color": {"field": "s", "type": "nominal", "legend": null}
    }},
   {"data": {"values": [{"t": "kps"}]},
    "mark": {"type": "text", "fontSize": 27, "fontStyle": "italic", "align": "left", "baseline": "alphabetic", "color": "black"},
    "encoding": {"x": {"datum": 0.000086, "type": "quantitative"}, "y": {"datum": 0.0735, "type": "quantitative"}, "text": {"field": "t"}}}
  ]
}
 ]
},
{
 "bounds": "full", "spacing": 24.5,
 "resolve": {"scale": {"color": "independent", "shape": "independent", "strokeDash": "independent", "opacity": "independent", "yOffset": "independent"}},
 "hconcat": [
 {
  "bounds": "flush", "spacing": 0,
  "resolve": {"scale": {"color": "independent", "shape": "independent", "strokeDash": "independent", "opacity": "independent", "yOffset": "independent"}},
  "vconcat": [
{"width": 215, "height": 17, "data": {"values": [{"z": 0}]}, "mark": {"type": "point", "opacity": 0, "size": 1}, "encoding": {},
 "title": {"text": "B", "anchor": "start", "frame": "group", "fontSize": 38, "baseline": "alphabetic", "offset": 0, "dx": -102, "dy": 56}},
{
    "width": 215, "height": 421,
    "data": {"name": "cpsB"},
    "encoding": {
     "y": {"field": "s", "type": "nominal", "sort": null,
       "scale": {"domain": ["Escherichia coli|(3797/788)","Salmonella enterica|(982/152)","Klebsiella pneumoniae|(810/261)","Enterobacter hormaechei|(246/67)","Serratia marcescens|(107/29)","Klebsiella quasipneumoniae|(62/52)","Klebsiella variicola|(60/49)","Cronobacter sakazakii|(60/13)","Citrobacter freundii|(54/24)","Klebsiella aerogenes|(45/7)","Escherichia albertii|(41/26)","Enterobacter kobei|(37/13)","Enterobacter asburiae|(37/15)","Klebsiella michiganensis|(35/26)","Klebsiella oxytoca|(26/8)","Escherichia clade (C1)|(26/13)","Escherichia marmotae|(20/11)","Citrobacter koseri|(8/3)"], "paddingInner": 0, "paddingOuter": 0.1},
       "axis": {"title": null, "labelExpr": "split(datum.value, '|')", "labelFontStyle": "italic", "labelFontSize": 8.7, "labelLineHeight": 9.6, "labelColor": "#666666", "grid": true, "gridColor": "#ebebeb", "bandPosition": 0.5, "labelPadding": 5}}
    },
    "layer": [
     {"transform": [{"filter": "isValid(datum.lo)"}],
      "mark": {"type": "rule", "color": "#8f8f8f", "strokeWidth": 1},
      "encoding": {"yOffset": {"field": "t", "type": "nominal", "scale": {"domain": ["none","0.01","0.004"], "paddingInner": 0, "paddingOuter": 0.31}},
       "x": {"field": "lo", "type": "quantitative", "scale": {"type": "sqrt", "domain": [-0.0025, 1.1025], "nice": false, "zero": false},
         "axis": {"values": [0.085,0.16,0.25,0.375,0.5,0.625,0.75,0.875,1], "labelExpr": "indexof([0.25,0.5,0.75,1], datum.value) >= 0 ? format(datum.value, '.2f') : ''", "title": null, "grid": true, "gridColor": "#ebebeb", "labelFontSize": 7.5, "labelPadding": 3}},
       "x2": {"field": "hi"}}},
     {"transform": [{"filter": "isValid(datum.lo)"}],
      "mark": {"type": "tick", "color": "#8f8f8f", "thickness": 1, "size": 4, "orient": "vertical"},
      "encoding": {"yOffset": {"field": "t", "type": "nominal"}, "x": {"field": "lo", "type": "quantitative"}}},
     {"transform": [{"filter": "isValid(datum.lo)"}],
      "mark": {"type": "tick", "color": "#8f8f8f", "thickness": 1, "size": 4, "orient": "vertical"},
      "encoding": {"yOffset": {"field": "t", "type": "nominal"}, "x": {"field": "hi", "type": "quantitative"}}},
     {"mark": {"type": "point", "filled": true, "opacity": 1, "size": 40},
      "encoding": {"yOffset": {"field": "t", "type": "nominal"}, "x": {"field": "v", "type": "quantitative"},
       "color": {"field": "t", "type": "nominal", "scale": {"domain": ["0.004","0.01","none"], "range": ["#999999","#999999","#3DAA4A"]},
         "legend": {"orient": "none", "legendX": 35, "legendY": -55.5, "title": "Lineage thresh.", "titleOrient": "left", "titleAnchor": "middle", "titleFontSize": 11, "labelFontSize": 11, "symbolSize": 60, "rowPadding": 6, "titlePadding": 16, "labelOffset": 8}},
       "shape": {"field": "t", "type": "nominal", "scale": {"domain": ["0.004","0.01","none"], "range": ["circle","triangle-up","square"]},
         "legend": {"orient": "none", "legendX": 35, "legendY": -55.5, "title": "Lineage thresh.", "titleOrient": "left", "titleAnchor": "middle", "titleFontSize": 11, "labelFontSize": 11, "symbolSize": 60, "rowPadding": 6, "titlePadding": 16, "labelOffset": 8}}}},
     {"data": {"values": [{"t": "cps"}]},
      "mark": {"type": "text", "fontSize": 27, "fontStyle": "italic", "align": "left", "baseline": "alphabetic", "color": "black", "dy": 14},
      "encoding": {"x": {"datum": 0.59, "type": "quantitative"}, "y": {"datum": "Escherichia coli|(3797/788)", "type": "nominal"}, "text": {"field": "t"}}}
    ]
},
{"width": 215, "height": 14, "data": {"values": [{"z": 0}]}, "mark": {"type": "point", "opacity": 0, "size": 1}, "encoding": {}},
{
    "width": 215, "height": 117,
    "data": {"name": "kpsB"},
    "encoding": {
     "y": {"field": "s", "type": "nominal", "sort": null,
       "scale": {"domain": ["Escherichia coli|(3797/100)","Cronobacter sakazakii|(60/17)","Cronobacter malonaticus|(12/6)","Yersinia intermedia|(9/5)"], "paddingInner": 0, "paddingOuter": 0.1},
       "axis": {"title": null, "labelExpr": "split(datum.value, '|')", "labelFontStyle": "italic", "labelFontSize": 8.7, "labelLineHeight": 9.6, "labelColor": "#666666", "grid": true, "gridColor": "#ebebeb", "bandPosition": 0.5, "labelPadding": 5}}
    },
    "layer": [
     {"transform": [{"filter": "isValid(datum.lo)"}],
      "mark": {"type": "rule", "color": "#8f8f8f", "strokeWidth": 1},
      "encoding": {"yOffset": {"field": "t", "type": "nominal", "scale": {"domain": ["none","0.01","0.004"], "paddingInner": 0, "paddingOuter": 0.31}},
       "x": {"field": "lo", "type": "quantitative", "scale": {"type": "sqrt", "domain": [-0.0025, 1.1025], "nice": false, "zero": false},
         "axis": {"values": [0.085,0.16,0.25,0.375,0.5,0.625,0.75,0.875,1], "labelExpr": "indexof([0.25,0.5,0.75,1], datum.value) >= 0 ? format(datum.value, '.2f') : ''", "title": "Sharing frequency", "titleFontSize": 7.8, "titlePadding": 3, "grid": true, "gridColor": "#ebebeb", "labelFontSize": 7.5, "labelPadding": 3}},
       "x2": {"field": "hi"}}},
     {"transform": [{"filter": "isValid(datum.lo)"}],
      "mark": {"type": "tick", "color": "#8f8f8f", "thickness": 1, "size": 4, "orient": "vertical"},
      "encoding": {"yOffset": {"field": "t", "type": "nominal"}, "x": {"field": "lo", "type": "quantitative"}}},
     {"transform": [{"filter": "isValid(datum.lo)"}],
      "mark": {"type": "tick", "color": "#8f8f8f", "thickness": 1, "size": 4, "orient": "vertical"},
      "encoding": {"yOffset": {"field": "t", "type": "nominal"}, "x": {"field": "hi", "type": "quantitative"}}},
     {"mark": {"type": "point", "filled": true, "opacity": 1, "size": 40},
      "encoding": {"yOffset": {"field": "t", "type": "nominal"}, "x": {"field": "v", "type": "quantitative"},
       "color": {"field": "t", "type": "nominal", "scale": {"domain": ["0.004","0.01","none"], "range": ["#999999","#999999","#3DAA4A"]}, "legend": null},
       "shape": {"field": "t", "type": "nominal", "scale": {"domain": ["0.004","0.01","none"], "range": ["circle","triangle-up","square"]}, "legend": null}}},
     {"data": {"values": [{"t": "kps"}]},
      "mark": {"type": "text", "fontSize": 27, "fontStyle": "italic", "align": "left", "baseline": "alphabetic", "color": "black", "dy": 15},
      "encoding": {"x": {"datum": 0.663, "type": "quantitative"}, "y": {"datum": "Escherichia coli|(3797/100)", "type": "nominal"}, "text": {"field": "t"}}}
    ]
}
  ]
 },
 {
  "bounds": "flush", "spacing": 0,
  "resolve": {"scale": {"color": "independent", "shape": "independent", "strokeDash": "independent", "opacity": "independent", "yOffset": "independent"}},
  "vconcat": [
{"width": 258.5, "height": 22, "data": {"values": [{"z": 0}]}, "mark": {"type": "point", "opacity": 0, "size": 1}, "encoding": {},
 "title": {"text": "C", "anchor": "start", "frame": "group", "fontSize": 38, "baseline": "alphabetic", "offset": 0, "dx": -40, "dy": 56}},
{
    "width": 258.5, "height": 393,
    "data": {"name": "cpsC"},
    "encoding": {
     "y": {"field": "s", "type": "nominal", "sort": null,
       "scale": {"domain": ["E. coli|(3797/788)","S. enterica|(982/152)","K. pneumoniae|(810/261)","E. hormaechei|(246/67)","S. marcescens|(107/29)","C. sakazakii|(60/13)","K. aerogenes|(45/7)","E. kobei|(37/13)"], "paddingInner": 0, "paddingOuter": 0.1},
       "axis": {"title": null, "labelExpr": "split(datum.value, '|')", "labelFontStyle": "italic", "labelFontSize": 9.5, "labelLineHeight": 10.7, "labelColor": "#666666", "grid": true, "gridColor": "#ebebeb", "bandPosition": 0.5, "labelPadding": 5}}
    },
    "layer": [
     {"transform": [{"filter": "isValid(datum.lo) && datum.t == '0.004'"}],
      "mark": {"type": "rule", "strokeWidth": 1.2},
      "encoding": {
       "yOffset": {"field": "g", "type": "nominal", "scale": {"domain": ["yes 0.01","yes 0.004","(unresolved) 0.01","(unresolved) 0.004","no 0.01","no 0.004"], "paddingInner": 0, "paddingOuter": 0.74}},
       "x": {"field": "lo", "type": "quantitative", "scale": {"domain": [-0.05, 1.05], "nice": false, "zero": false},
         "axis": {"values": [0,0.125,0.25,0.375,0.5,0.625,0.75,0.875,1], "labelExpr": "datum.value*4==round(datum.value*4)?format(datum.value,'.2f'):''", "title": "Relative frequency", "titleFontSize": 12, "titlePadding": 2, "grid": true, "gridColor": "#ebebeb", "labelFontSize": 10, "labelPadding": 3}},
       "x2": {"field": "hi"},
       "color": {"field": "e", "type": "nominal", "scale": {"domain": ["no","(unresolved)","yes"], "range": ["#E32028","#9B9B9B","#2C7CBD"]},
         "legend": {"orient": "none", "legendX": 152, "legendY": -64.5, "title": "Recent exchange?", "titleFontSize": 11, "labelFontSize": 11, "symbolType": "M-2.5,0L2.5,0M1.1,0A1.1,1.1,0,1,1,-1.1,0A1.1,1.1,0,1,1,1.1,0M0.7,0A0.7,0.7,0,1,1,-0.7,0A0.7,0.7,0,1,1,0.7,0M0.3,0A0.3,0.3,0,1,1,-0.3,0A0.3,0.3,0,1,1,0.3,0", "symbolSize": 36, "symbolStrokeWidth": 1.5, "labelOffset": 8, "rowPadding": 3.5, "titlePadding": 8}}}},
     {"transform": [{"filter": "isValid(datum.lo) && datum.t == '0.01'"}],
      "mark": {"type": "rule", "strokeWidth": 1.2, "opacity": 0.55},
      "encoding": {"yOffset": {"field": "g", "type": "nominal"}, "x": {"field": "lo", "type": "quantitative"}, "x2": {"field": "hi"}, "color": {"field": "e", "type": "nominal", "legend": null}}},
     {"transform": [{"filter": "isValid(datum.lo) && datum.t == '0.004'"}],
      "mark": {"type": "tick", "thickness": 1.2, "size": 4, "orient": "vertical"},
      "encoding": {"yOffset": {"field": "g", "type": "nominal"}, "x": {"field": "lo", "type": "quantitative"}, "color": {"field": "e", "type": "nominal", "legend": null}}},
     {"transform": [{"filter": "isValid(datum.lo) && datum.t == '0.004'"}],
      "mark": {"type": "tick", "thickness": 1.2, "size": 4, "orient": "vertical"},
      "encoding": {"yOffset": {"field": "g", "type": "nominal"}, "x": {"field": "hi", "type": "quantitative"}, "color": {"field": "e", "type": "nominal", "legend": null}}},
     {"transform": [{"filter": "isValid(datum.lo) && datum.t == '0.01'"}],
      "mark": {"type": "tick", "thickness": 1.2, "size": 4, "orient": "vertical", "opacity": 0.55},
      "encoding": {"yOffset": {"field": "g", "type": "nominal"}, "x": {"field": "lo", "type": "quantitative"}, "color": {"field": "e", "type": "nominal", "legend": null}}},
     {"transform": [{"filter": "isValid(datum.lo) && datum.t == '0.01'"}],
      "mark": {"type": "tick", "thickness": 1.2, "size": 4, "orient": "vertical", "opacity": 0.55},
      "encoding": {"yOffset": {"field": "g", "type": "nominal"}, "x": {"field": "hi", "type": "quantitative"}, "color": {"field": "e", "type": "nominal", "legend": null}}},
     {"mark": {"type": "point", "filled": true, "size": 55, "opacity": 1},
      "encoding": {"yOffset": {"field": "g", "type": "nominal"}, "x": {"field": "v", "type": "quantitative"},
       "color": {"field": "e", "type": "nominal", "legend": null},
       "shape": {"field": "t", "type": "nominal", "scale": {"domain": ["0.004","0.01"], "range": ["circle","triangle-up"]},
         "legend": {"orient": "none", "legendX": 65, "legendY": -64.5, "title": "Lineage thresh.", "titleFontSize": 11, "labelFontSize": 11, "symbolSize": 45, "symbolFillColor": "black", "symbolStrokeColor": "black", "rowPadding": 5, "titlePadding": 8}}}},
     {"data": {"values": [{"t": "cps"}]},
      "mark": {"type": "text", "fontSize": 27, "fontStyle": "italic", "align": "left", "baseline": "alphabetic", "color": "black", "dy": -8},
      "encoding": {"x": {"datum": 0.844, "type": "quantitative"}, "y": {"datum": "E. coli|(3797/788)", "type": "nominal"}, "text": {"field": "t"}}}
    ]
},
{"width": 258.5, "height": 36, "data": {"values": [{"z": 0}]}, "mark": {"type": "point", "opacity": 0, "size": 1}, "encoding": {}},
{
    "width": 258.5, "height": 104,
    "data": {"name": "kpsC"},
    "encoding": {
     "y": {"field": "s", "type": "nominal", "sort": null,
       "scale": {"domain": ["E. coli|(3797/100)","C. sakazakii|(60/17)"], "paddingInner": 0, "paddingOuter": 0.1},
       "axis": {"title": null, "labelExpr": "split(datum.value, '|')", "labelFontStyle": "italic", "labelFontSize": 9.5, "labelLineHeight": 10.7, "labelColor": "#666666", "grid": true, "gridColor": "#ebebeb", "bandPosition": 0.5, "labelPadding": 5}}
    },
    "layer": [
     {"transform": [{"filter": "isValid(datum.lo) && datum.t == '0.004'"}],
      "mark": {"type": "rule", "strokeWidth": 1.2},
      "encoding": {
       "yOffset": {"field": "g", "type": "nominal", "scale": {"domain": ["yes 0.01","yes 0.004","(unresolved) 0.01","(unresolved) 0.004","no 0.01","no 0.004"], "paddingInner": 0, "paddingOuter": 0.74}},
       "x": {"field": "lo", "type": "quantitative", "scale": {"domain": [-0.05, 1.05], "nice": false, "zero": false},
         "axis": {"values": [0,0.125,0.25,0.375,0.5,0.625,0.75,0.875,1], "labelExpr": "datum.value*4==round(datum.value*4)?format(datum.value,'.2f'):''", "title": "Relative frequency", "titleFontSize": 12, "titlePadding": 2, "grid": true, "gridColor": "#ebebeb", "labelFontSize": 10, "labelPadding": 3}},
       "x2": {"field": "hi"},
       "color": {"field": "e", "type": "nominal", "scale": {"domain": ["no","(unresolved)","yes"], "range": ["#E32028","#9B9B9B","#2C7CBD"]}, "legend": null}}},
     {"transform": [{"filter": "isValid(datum.lo) && datum.t == '0.01'"}],
      "mark": {"type": "rule", "strokeWidth": 1.2, "opacity": 0.55},
      "encoding": {"yOffset": {"field": "g", "type": "nominal"}, "x": {"field": "lo", "type": "quantitative"}, "x2": {"field": "hi"}, "color": {"field": "e", "type": "nominal", "legend": null}}},
     {"transform": [{"filter": "isValid(datum.lo) && datum.t == '0.004'"}],
      "mark": {"type": "tick", "thickness": 1.2, "size": 4, "orient": "vertical"},
      "encoding": {"yOffset": {"field": "g", "type": "nominal"}, "x": {"field": "lo", "type": "quantitative"}, "color": {"field": "e", "type": "nominal", "legend": null}}},
     {"transform": [{"filter": "isValid(datum.lo) && datum.t == '0.004'"}],
      "mark": {"type": "tick", "thickness": 1.2, "size": 4, "orient": "vertical"},
      "encoding": {"yOffset": {"field": "g", "type": "nominal"}, "x": {"field": "hi", "type": "quantitative"}, "color": {"field": "e", "type": "nominal", "legend": null}}},
     {"transform": [{"filter": "isValid(datum.lo) && datum.t == '0.01'"}],
      "mark": {"type": "tick", "thickness": 1.2, "size": 4, "orient": "vertical", "opacity": 0.55},
      "encoding": {"yOffset": {"field": "g", "type": "nominal"}, "x": {"field": "lo", "type": "quantitative"}, "color": {"field": "e", "type": "nominal", "legend": null}}},
     {"transform": [{"filter": "isValid(datum.lo) && datum.t == '0.01'"}],
      "mark": {"type": "tick", "thickness": 1.2, "size": 4, "orient": "vertical", "opacity": 0.55},
      "encoding": {"yOffset": {"field": "g", "type": "nominal"}, "x": {"field": "hi", "type": "quantitative"}, "color": {"field": "e", "type": "nominal", "legend": null}}},
     {"mark": {"type": "point", "filled": true, "size": 55, "opacity": 1},
      "encoding": {"yOffset": {"field": "g", "type": "nominal"}, "x": {"field": "v", "type": "quantitative"},
       "color": {"field": "e", "type": "nominal", "legend": null},
       "shape": {"field": "t", "type": "nominal", "scale": {"domain": ["0.004","0.01"], "range": ["circle","triangle-up"]}, "legend": null}}},
     {"data": {"values": [{"t": "kps"}]},
      "mark": {"type": "text", "fontSize": 27, "fontStyle": "italic", "align": "left", "baseline": "alphabetic", "color": "black", "dy": 4},
      "encoding": {"x": {"datum": 0.844, "type": "quantitative"}, "y": {"datum": "E. coli|(3797/100)", "type": "nominal"}, "text": {"field": "t"}}}
    ]
}
  ]
 }
 ]
}
]
}
